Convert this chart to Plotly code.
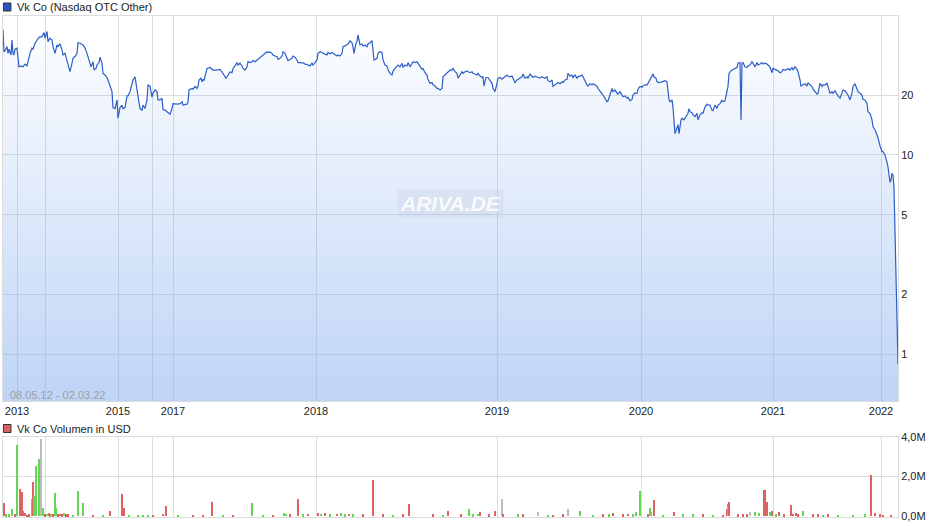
import plotly.graph_objects as go

# ---------------- data ----------------
# x unit: trading-session index (0 = 08.05.12, 895 = 02.03.22)
price_points = [
    (0, 42.5), (1, 33.0), (2, 33.4), (4, 35.0), (5, 32.4), (6, 34.0), (8, 31.8), (9, 37.8), (10, 32.4),
    (11, 31.8), (12, 34.0), (14, 34.4), (16, 27.7), (18, 28.0), (20, 27.7), (22, 28.6), (24, 28.0),
    (25, 29.4), (27, 32.4), (29, 34.4), (30, 34.0), (32, 36.4), (34, 37.8), (36, 39.0), (39, 39.3),
    (41, 41.2), (42, 38.6), (44, 41.7), (45, 37.1), (47, 38.6), (49, 37.8), (50, 35.0), (52, 32.4),
    (54, 35.7), (55, 35.0), (57, 36.1), (59, 33.7), (60, 31.8), (62, 32.4), (64, 30.0), (65, 28.3),
    (67, 26.2), (69, 28.9), (70, 30.6), (72, 31.2), (74, 32.4), (75, 36.6), (77, 36.4), (80, 35.7),
    (82, 34.4), (84, 32.4), (86, 30.0), (88, 27.7), (90, 29.4), (91, 26.7), (93, 27.2), (94, 28.3),
    (96, 29.1), (97, 31.0), (99, 28.9), (100, 25.7), (102, 25.2), (104, 24.5), (105, 23.8), (107, 22.5),
    (109, 20.8), (110, 17.3), (112, 17.1), (114, 18.9), (115, 15.3), (117, 17.3), (119, 17.8), (120, 17.1),
    (122, 17.3), (124, 19.8), (125, 19.8), (127, 20.8), (129, 22.9), (130, 23.8), (132, 24.7), (134, 21.2),
    (135, 20.5), (137, 17.1), (139, 16.8), (140, 17.8), (142, 17.1), (144, 18.9), (145, 22.5), (147, 22.1),
    (149, 19.5), (150, 20.4), (152, 21.2), (154, 20.8), (155, 18.9), (157, 18.9), (159, 19.3), (160, 16.9),
    (162, 16.8), (164, 16.5), (165, 16.2), (167, 16.0), (169, 17.1), (170, 18.1), (174, 18.0), (177, 18.1),
    (179, 18.5), (180, 17.8), (184, 18.0), (185, 18.5), (186, 21.2), (189, 21.6), (190, 21.4), (192, 22.1),
    (194, 21.6), (195, 22.1), (196, 23.8), (198, 24.3), (199, 23.3), (200, 24.0), (201, 23.6), (203, 25.7),
    (204, 27.2), (207, 27.5), (210, 26.7), (213, 26.7), (215, 26.7), (217, 26.9), (219, 26.1), (221, 25.2),
    (223, 24.3), (224, 24.7), (226, 25.9), (227, 26.1), (229, 25.9), (230, 27.2), (232, 28.0), (234, 29.1),
    (235, 28.3), (237, 28.9), (239, 28.0), (240, 27.2), (242, 26.7), (244, 27.7), (245, 29.4), (247, 29.1),
    (249, 29.4), (250, 29.8), (252, 29.4), (254, 30.0), (255, 30.2), (257, 31.0), (259, 31.4), (260, 31.8),
    (262, 32.4), (264, 33.0), (265, 32.7), (267, 32.9), (269, 32.4), (270, 31.8), (272, 31.4), (274, 31.2),
    (275, 30.2), (277, 30.6), (279, 31.4), (280, 33.0), (282, 32.4), (284, 30.6), (285, 29.8), (287, 30.2),
    (289, 30.6), (290, 31.4), (292, 31.0), (294, 30.0), (295, 29.1), (297, 29.1), (299, 28.9), (300, 29.1),
    (302, 28.6), (304, 28.5), (305, 28.3), (307, 28.0), (309, 28.9), (310, 28.3), (312, 29.1), (314, 30.0),
    (315, 32.4), (317, 33.0), (319, 32.7), (320, 32.4), (322, 32.1), (324, 31.8), (325, 32.7), (327, 32.2),
    (329, 32.7), (330, 32.4), (332, 31.8), (334, 31.4), (335, 31.8), (337, 31.4), (339, 32.4), (340, 35.0),
    (342, 35.3), (344, 35.7), (345, 36.1), (347, 37.5), (349, 36.6), (350, 35.0), (351, 32.4), (353, 36.4),
    (354, 37.1), (355, 40.1), (356, 37.1), (357, 35.7), (359, 36.1), (360, 35.3), (362, 35.7), (364, 35.0),
    (365, 36.1), (367, 36.6), (369, 37.5), (370, 32.4), (371, 30.0), (372, 30.2), (374, 30.6), (375, 32.4),
    (377, 33.0), (379, 32.7), (380, 30.0), (382, 28.3), (384, 28.0), (385, 26.9), (387, 25.7), (389, 25.2),
    (390, 26.3), (392, 27.2), (394, 28.0), (395, 28.3), (397, 27.7), (399, 28.9), (400, 27.5), (402, 28.3),
    (404, 28.0), (405, 29.1), (407, 27.7), (409, 28.6), (410, 29.4), (412, 29.1), (414, 29.4), (415, 28.9),
    (417, 27.7), (419, 26.9), (420, 27.2), (422, 25.9), (424, 25.2), (425, 24.0), (427, 22.9), (429, 23.1),
    (430, 22.5), (432, 22.2), (434, 21.6), (435, 21.6), (437, 21.2), (439, 21.6), (440, 24.7), (442, 25.2),
    (444, 25.7), (445, 26.2), (447, 26.7), (449, 26.7), (450, 27.2), (452, 26.2), (454, 25.7), (455, 24.3),
    (457, 25.2), (459, 26.2), (460, 25.7), (462, 26.2), (464, 26.4), (465, 26.2), (467, 25.9), (469, 26.2),
    (470, 25.7), (472, 25.5), (474, 25.2), (475, 25.7), (477, 24.9), (479, 24.5), (480, 24.7), (481, 22.2),
    (483, 24.5), (485, 24.5), (487, 23.8), (489, 22.9), (490, 21.6), (492, 20.8), (494, 22.9), (495, 24.3),
    (497, 24.5), (499, 24.0), (500, 24.3), (502, 24.9), (504, 25.2), (505, 24.9), (507, 24.7), (509, 24.9),
    (510, 24.3), (512, 23.1), (514, 23.8), (515, 24.0), (517, 24.5), (519, 24.7), (520, 25.5), (522, 24.3),
    (524, 24.7), (525, 24.3), (527, 25.5), (529, 24.9), (530, 24.5), (532, 24.9), (534, 24.7), (535, 24.5),
    (537, 24.3), (539, 24.7), (540, 24.5), (542, 24.3), (544, 24.7), (545, 23.6), (547, 23.3), (549, 23.8),
    (550, 22.1), (552, 22.5), (554, 22.9), (555, 23.1), (557, 22.8), (559, 23.3), (560, 23.1), (562, 23.8),
    (564, 24.0), (565, 25.7), (567, 24.9), (569, 25.2), (570, 24.5), (572, 25.2), (574, 24.3), (575, 24.7),
    (577, 24.9), (579, 25.2), (580, 24.7), (582, 23.3), (584, 22.5), (585, 22.2), (587, 22.8), (589, 22.5),
    (590, 22.8), (592, 22.5), (594, 22.1), (595, 21.6), (597, 21.0), (599, 20.4), (600, 20.0), (602, 19.3),
    (604, 18.5), (605, 18.7), (607, 20.4), (609, 21.6), (610, 20.8), (612, 21.2), (614, 20.4), (615, 20.2),
    (617, 20.8), (619, 20.0), (620, 19.6), (622, 19.8), (624, 19.3), (625, 19.5), (627, 18.7), (629, 19.0),
    (630, 20.0), (632, 20.5), (634, 20.4), (635, 21.4), (637, 22.1), (639, 21.9), (640, 22.2), (642, 22.5),
    (644, 22.5), (645, 22.9), (647, 23.8), (649, 24.7), (650, 25.5), (651, 24.7), (653, 24.3), (654, 23.3),
    (656, 23.1), (659, 23.3), (662, 23.6), (664, 23.3), (665, 21.2), (666, 18.9), (667, 18.5), (669, 18.9),
    (670, 17.4), (671, 15.0), (672, 12.8), (674, 13.7), (675, 14.2), (676, 12.8), (677, 13.9), (678, 15.0),
    (679, 15.3), (681, 15.0), (683, 15.6), (685, 16.2), (686, 17.1), (687, 16.5), (689, 16.3), (690, 15.9),
    (692, 15.6), (694, 16.2), (695, 15.0), (697, 15.9), (699, 16.3), (700, 16.2), (702, 17.4), (704, 18.0),
    (705, 17.8), (707, 17.8), (709, 16.8), (710, 16.7), (712, 17.8), (714, 17.1), (715, 17.8), (717, 18.1),
    (719, 18.9), (720, 18.5), (722, 18.7), (724, 21.6), (725, 22.1), (726, 25.7), (728, 26.5), (730, 26.9),
    (732, 27.2), (734, 27.5), (735, 28.9), (737, 29.1), (738, 15.0), (739, 28.9), (740, 29.1), (742, 27.7),
    (744, 27.5), (745, 28.0), (747, 28.3), (749, 29.4), (750, 28.9), (752, 27.7), (754, 29.1), (755, 28.3),
    (757, 28.6), (759, 29.1), (760, 28.6), (762, 28.9), (764, 28.6), (765, 28.3), (767, 27.7), (769, 25.9),
    (770, 27.2), (772, 26.9), (774, 26.7), (775, 26.5), (777, 25.9), (779, 26.2), (780, 26.9), (782, 26.7),
    (784, 26.9), (785, 27.2), (787, 26.7), (789, 27.5), (790, 26.7), (792, 27.7), (794, 26.9), (795, 26.2),
    (797, 23.8), (798, 22.2), (800, 22.5), (802, 22.8), (804, 22.2), (805, 23.1), (807, 22.5), (809, 22.1),
    (810, 21.4), (812, 20.8), (814, 20.2), (815, 20.4), (817, 22.9), (819, 22.1), (820, 22.5), (822, 22.5),
    (824, 22.9), (825, 22.1), (827, 20.4), (829, 20.8), (830, 20.4), (832, 21.0), (834, 20.0), (835, 19.8),
    (837, 19.3), (839, 20.8), (840, 21.2), (842, 21.0), (844, 20.4), (845, 20.0), (847, 18.9), (849, 20.5),
    (850, 22.1), (852, 22.8), (854, 21.4), (855, 20.8), (857, 20.4), (859, 20.0), (860, 19.0), (862, 18.9),
    (864, 18.1), (865, 16.5), (867, 16.2), (869, 15.0), (870, 13.9), (872, 13.4), (874, 12.6), (875, 12.2),
    (877, 11.1), (879, 10.4), (880, 10.4), (882, 10.0), (884, 9.2), (885, 8.7), (887, 7.3), (888, 7.5),
    (889, 8.1), (890, 7.9), (891, 6.9), (895, 0.89),
]
price_session = [s for s, _ in price_points]
price_value = [v for _, v in price_points]

# volume in million USD: session, value, direction (u=up/green, d=down/red, n=unchanged/grey)
volume_session = [1, 3, 6, 9, 12, 14, 17, 19, 20, 21, 22, 24, 26, 29, 30, 31, 33, 36, 37, 38, 40, 42, 44, 46,
                  47, 48, 49, 50, 52, 53, 55, 57, 59, 61, 63, 65, 70, 75, 80, 90, 100, 107, 119, 121, 126,
                  135, 140, 145, 150, 160, 163, 175, 190, 200, 209, 220, 230, 249, 260, 270, 281, 283, 287,
                  295, 300, 305, 315, 318, 322, 327, 334, 338, 342, 346, 350, 360, 370, 380, 390, 400, 406,
                  430, 440, 445, 458, 466, 470, 475, 477, 486, 492, 499, 500, 515, 520, 535, 545, 550, 560,
                  565, 577, 590, 600, 606, 610, 620, 625, 630, 633, 637, 645, 647, 648, 651, 660, 671, 680,
                  690, 700, 710, 720, 724, 725, 726, 735, 740, 744, 747, 752, 756, 761, 762, 764, 767, 769,
                  773, 776, 781, 788, 790, 793, 795, 800, 810, 815, 820, 825, 835, 850, 862, 868, 872, 877,
                  880, 888]
volume_value = [0.68, 0.10, 0.08, 0.37, 0.10, 3.60, 1.37, 1.22, 0.25, 0.15, 0.15, 0.05, 0.08, 0.86, 1.73,
                1.03, 2.54, 2.90, 0.61, 3.90, 0.40, 0.10, 0.12, 0.15, 0.08, 0.12, 0.12, 0.10, 1.17, 0.40,
                0.08, 0.12, 0.08, 0.15, 0.10, 0.08, 0.05, 1.29, 0.66, 0.05, 0.06, 0.25, 1.12, 0.40, 0.05,
                0.05, 0.06, 0.05, 0.07, 0.12, 0.50, 0.05, 0.06, 0.05, 0.71, 0.06, 0.05, 0.66, 0.07, 0.05,
                0.15, 0.12, 0.10, 0.86, 0.10, 0.12, 0.15, 0.12, 0.15, 0.10, 0.12, 0.15, 0.10, 0.12, 0.08,
                0.10, 1.83, 0.08, 0.06, 0.10, 0.61, 0.08, 0.05, 0.25, 0.10, 0.36, 0.10, 0.12, 0.20, 0.10,
                0.25, 0.86, 0.08, 0.10, 0.08, 0.20, 0.06, 0.05, 0.08, 0.36, 0.25, 0.06, 0.08, 0.10, 0.15,
                0.10, 0.12, 0.10, 0.20, 1.27, 0.10, 0.40, 0.20, 0.81, 0.06, 0.20, 0.08, 0.10, 0.08, 0.06,
                0.05, 0.36, 0.61, 0.71, 0.10, 0.10, 0.10, 0.20, 0.20, 0.15, 1.32, 1.32, 0.71, 0.20, 0.25,
                0.10, 0.20, 0.08, 0.56, 0.12, 0.15, 0.10, 0.25, 0.08, 0.10, 0.06, 0.08, 0.05, 0.06, 0.10,
                2.08, 0.15, 0.10, 0.05, 0.05]
volume_dir = ['d', 'u', 'u', 'u', 'd', 'u', 'd', 'd', 'd', 'd', 'd', 'd', 'd', 'u', 'd', 'u', 'u', 'u', 'u',
              'n', 'u', 'd', 'u', 'd', 'd', 'u', 'u', 'd', 'u', 'u', 'd', 'd', 'd', 'u', 'd', 'd', 'u', 'u',
              'u', 'd', 'u', 'd', 'd', 'd', 'u', 'u', 'u', 'u', 'd', 'd', 'd', 'u', 'd', 'd', 'd', 'u', 'd',
              'u', 'u', 'd', 'u', 'u', 'd', 'd', 'u', 'd', 'd', 'u', 'd', 'u', 'd', 'u', 'u', 'd', 'u', 'd',
              'd', 'd', 'u', 'd', 'd', 'd', 'u', 'd', 'd', 'u', 'u', 'u', 'd', 'd', 'd', 'n', 'd', 'u', 'd',
              'n', 'u', 'd', 'd', 'n', 'u', 'u', 'd', 'u', 'd', 'd', 'd', 'u', 'u', 'u', 'd', 'u', 'u', 'd',
              'u', 'd', 'u', 'u', 'd', 'u', 'd', 'd', 'u', 'd', 'd', 'd', 'd', 'n', 'u', 'u', 'd', 'd', 'd',
              'u', 'd', 'u', 'd', 'd', 'd', 'd', 'd', 'd', 'u', 'd', 'd', 'u', 'd', 'u', 'u', 'u', 'd', 'd',
              'd', 'd', 'd']

year_session = [14, 42, 115, 149, 170, 313, 494, 638, 770, 878]
year_label = ['2013', '', '2015', '', '2017', '2018', '2019', '2020', '2021', '2022']

price_ticks = [1, 2, 5, 10, 20]
price_tick_text = ['1', '2', '5', '10', '20']
volume_ticks = [0, 2, 4]
volume_tick_text = ['0,0M', '2,0M', '4,0M']

title_price = 'Vk Co (Nasdaq OTC Other)'
title_volume = 'Vk Co Volumen in USD'
range_text = '08.05.12 - 02.03.22'

# ---------------- styling ----------------
LINE = '#2c5ec8'
GRID = '#dcdcdc'
FONT = 'Arial, Liberation Sans, sans-serif'
DIR_COLOR = {'u': '#62d852', 'd': '#dd6262', 'n': '#bbbbbb'}

fig = go.Figure()
fig.add_trace(go.Scatter(
    x=price_session, y=price_value, mode='lines',
    line=dict(color=LINE, width=1.2),
    fill='tozeroy',
    fillgradient=dict(type='vertical', start=0.58, stop=50,
                      colorscale=[[0, 'rgba(130,172,238,0.52)'], [1, 'rgba(130,172,238,0.0)']]),
    hoverinfo='skip', xaxis='x', yaxis='y', showlegend=False,
))
fig.add_trace(go.Bar(
    x=volume_session, y=volume_value, width=1.0,
    marker=dict(color=[DIR_COLOR[d] for d in volume_dir], line=dict(width=0)),
    xaxis='x2', yaxis='y2', showlegend=False, hoverinfo='skip',
))

main_bottom = (517 - 401) / 501
vol_top = (517 - 437) / 501

axis_common = dict(showline=True, linecolor=GRID, linewidth=1, mirror=True, zeroline=False,
                   gridcolor=GRID, gridwidth=1, ticks='')

fig.update_layout(
    width=940, height=526,
    margin=dict(l=3, r=42, t=16, b=9),
    paper_bgcolor='white', plot_bgcolor='white',
    font=dict(family=FONT, size=11, color='#222222'),
    bargap=0,
    xaxis=dict(domain=[0, 1], anchor='y', range=[0, 895], tickvals=year_session, ticktext=year_label,
               showgrid=True, tickfont=dict(size=11, color='#222222'), **axis_common),
    yaxis=dict(domain=[main_bottom, 1], anchor='x', type='log', range=[-0.236, 1.698], side='right',
               tickvals=price_ticks, ticktext=price_tick_text, showgrid=True,
               tickfont=dict(size=11, color='#222222'), **axis_common),
    xaxis2=dict(domain=[0, 1], anchor='y2', range=[0, 895], tickvals=year_session, showticklabels=False,
                showgrid=True, **axis_common),
    yaxis2=dict(domain=[0, vol_top], anchor='x2', range=[-0.05, 4.0], side='right',
                tickvals=volume_ticks, ticktext=volume_tick_text, showgrid=True,
                tickfont=dict(size=11, color='#222222'), **axis_common),
)

# legends as square markers + text
sq = dict(type='rect', xref='paper', yref='paper', line=dict(color='#333333', width=1), layer='above')
fig.add_shape(x0=0.0005, x1=0.0089, y0=(517 - 11) / 501, y1=(517 - 3) / 501, fillcolor='#2457c5', **sq)
fig.add_shape(x0=0.0005, x1=0.0089, y0=(517 - 432.5) / 501, y1=(517 - 424.5) / 501, fillcolor='#dd6262', **sq)
fig.add_annotation(x=12 / 895, y=(517 - 7) / 501, xref='paper', yref='paper', text=title_price,
                   showarrow=False, xanchor='left', yanchor='middle', font=dict(size=11, color='#222222'))
fig.add_annotation(x=12 / 895, y=(517 - 428.5) / 501, xref='paper', yref='paper', text=title_volume,
                   showarrow=False, xanchor='left', yanchor='middle', font=dict(size=11, color='#222222'))
fig.add_annotation(x=5 / 895, y=(517 - 395) / 501, xref='paper', yref='paper', text=range_text,
                   showarrow=False, xanchor='left', yanchor='middle', font=dict(size=11, color='#a0a0a0'))
# watermark
fig.add_annotation(x=(450 - 3) / 895, y=(517 - 203) / 501, xref='paper', yref='paper',
                   text='<b><i>ARIVA.DE</i></b>', showarrow=False, xanchor='center', yanchor='middle',
                   font=dict(size=21, color='rgba(255,255,255,0.85)'),
                   bgcolor='rgba(190,200,215,0.22)', borderpad=2)

fig.write_html('out.html', config={'displayModeBar': False},
               post_script="document.body.style.margin='0';document.body.style.overflow='hidden';")
